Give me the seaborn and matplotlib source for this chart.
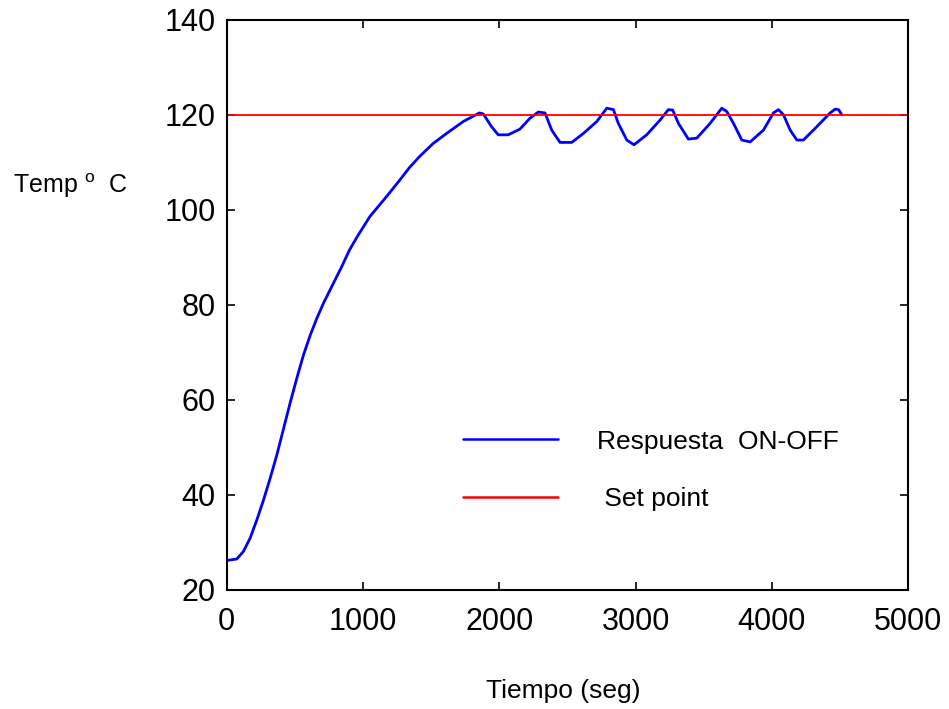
import matplotlib
matplotlib.use("Agg")
import matplotlib.pyplot as plt
import seaborn as sns
import pandas as pd
import numpy as np

# respuesta del control ON-OFF
tiempo = [0, 73, 122, 171, 220, 269, 318, 367, 416, 465, 514, 563, 612, 661,
          710, 783, 844, 901, 960, 1050, 1172, 1270, 1340, 1417, 1515, 1613, 1735,
          1853, 1882, 1943, 1992, 2065, 2151, 2225, 2286, 2335, 2384, 2445, 2531,
          2617, 2715, 2788, 2837, 2873, 2935, 2988, 3081, 3179, 3240, 3272, 3314,
          3387, 3449, 3546, 3632, 3669, 3718, 3779, 3840, 3938, 4011, 4048, 4085,
          4134, 4183, 4231, 4329, 4427, 4464, 4489, 4513]
temperatura = [26.2, 26.5, 28.1, 30.9, 34.7, 38.9, 43.5, 48.4, 53.9, 59.4, 64.6,
               69.5, 73.6, 77.2, 80.4, 84.6, 88.1, 91.6, 94.5, 98.6, 102.8, 106.3,
               108.9, 111.3, 114.0, 116.1, 118.6, 120.4, 120.2, 117.5, 115.8, 115.8,
               117.0, 119.3, 120.6, 120.4, 116.8, 114.2, 114.2, 116.1, 118.6, 121.4,
               121.1, 118.2, 114.7, 113.7, 115.8, 118.9, 121.1, 121.0, 118.2, 114.9,
               115.1, 118.2, 121.4, 120.7, 118.2, 114.7, 114.3, 116.8, 120.4, 121.1,
               120.0, 116.8, 114.7, 114.7, 117.5, 120.4, 121.2, 121.1, 120.0]

# set point
sp_tiempo = [0, 0, 5000]
sp_temp = [20, 120, 120]

x_ticks = [0, 1000, 2000, 3000, 4000, 5000]
y_ticks = [20, 40, 60, 80, 100, 120, 140]

sns.set_style("ticks")
plt.rcParams['font.family'] = ['Liberation Sans', 'DejaVu Sans']
plt.rcParams.update({"text.color": "black", "axes.labelcolor": "black",
                     "xtick.color": "black", "ytick.color": "black"})

fig = plt.figure(figsize=(9.49, 7.09), dpi=100)
ax = fig.add_axes([0.239, 0.168, 0.718, 0.804])

df = pd.DataFrame({"t": tiempo, "T": temperatura})
df_sp = pd.DataFrame({"t": sp_tiempo, "T": sp_temp})

sns.lineplot(data=df, x="t", y="T", ax=ax, color="#0000ff", linewidth=2.0,
             estimator=None, sort=False, label="Respuesta  ON-OFF")
sns.lineplot(data=df_sp, x="t", y="T", ax=ax, color="#ff0000", linewidth=1.3,
             estimator=None, sort=False, label=" Set point")

ax.set_xlim(0, 5000)
ax.set_ylim(20, 140)
ax.set_xticks(x_ticks)
ax.set_yticks(y_ticks)
ax.tick_params(direction="in", length=6, width=1.2, labelsize=22,
               top=True, right=True)
ax.tick_params(axis="x", pad=12)
ax.tick_params(axis="y", pad=8)
for s in ax.spines.values():
    s.set_linewidth(1.5)
    s.set_color("black")
ax.set_xlabel("")
ax.set_ylabel("")

leg = ax.legend(loc="upper left", bbox_to_anchor=(0.3464, 0.281), frameon=False,
                fontsize=19, handlelength=3.6, handletextpad=1.5,
                labelspacing=1.27, borderpad=0, borderaxespad=0)
for ln in leg.get_lines():
    ln.set_linewidth(1.8)

fig.text(0.593, 0.025, "Tiempo (seg)", fontsize=19, ha="center", va="center")
fig.text(0.014, 0.738, r"Temp $^{\mathregular{o}}$  C", fontsize=18,
         ha="left", va="center")

fig.savefig("out.png", dpi=100)
